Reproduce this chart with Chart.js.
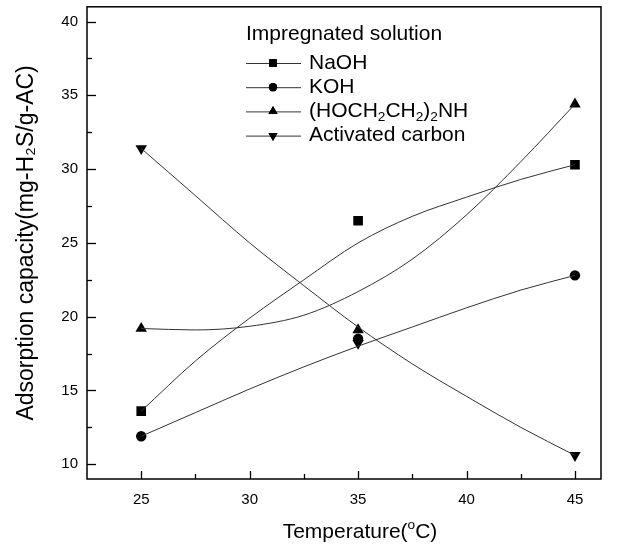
<!DOCTYPE html>
<html>
<head>
<meta charset="utf-8">
<script src="https://cdn.jsdelivr.net/npm/chart.js@4"></script>
<style>
  html, body { margin: 0; padding: 0; background: #fff; }
  #wrap { width: 637px; height: 547px; }
</style>
</head>
<body>
<div id="wrap"><canvas id="adsChart" width="637" height="547"></canvas></div>
<script>
// measured points (temperature in C)
const temps = [25, 35, 45];
const naoh = [13.6, 26.5, 30.3];
const koh = [11.9, 18.5, 22.8];
const dea = [19.2, 19.1, 34.4];
const carbon = [31.4, 18.2, 10.6];

// smoothed curves
const curveTemps = [25, 27.5, 30, 32.5, 35, 37.5, 40, 42.5, 45];
const naohCurve = [13.6, 17.0, 19.9, 22.5, 25.0, 26.8, 28.1, 29.3, 30.3];
const kohCurve = [11.9, 13.5, 15.1, 16.6, 18.0, 19.3, 20.6, 21.8, 22.8];
const deaCurve = [19.2, 19.1, 19.35, 20.1, 21.7, 23.9, 26.9, 30.5, 34.4];
const carbonCurve = [31.4, 28.2, 25.0, 22.1, 19.3, 16.8, 14.6, 12.5, 10.6];

const xTicks = [25, 30, 35, 40, 45];
const xMinor = [27.5, 32.5, 37.5, 42.5];
const yTicks = [10, 15, 20, 25, 30, 35, 40];
const yMinor = [12.5, 17.5, 22.5, 27.5, 32.5, 37.5];

const legendTitle = 'Impregnated solution';
const legendNames = ['NaOH', 'KOH', '(HOCH_2CH_2)_2NH', 'Activated carbon'];
const xTitle = 'Temperature(^oC)';

const FONT = "'Liberation Sans', Arial, sans-serif";
const lineColor = '#333';

const pts = (xs, ys) => xs.map((x, i) => ({ x: x, y: ys[i] }));

function curve(ys) {
  return {
    type: 'line',
    data: pts(curveTemps, ys),
    borderColor: lineColor,
    borderWidth: 1,
    pointRadius: 0,
    cubicInterpolationMode: 'monotone',
    showLine: true,
    fill: false
  };
}

function marks(ys, style, radius, rotation) {
  return {
    type: 'scatter',
    data: pts(temps, ys),
    showLine: false,
    pointStyle: style,
    pointRadius: radius,
    pointRotation: rotation || 0,
    pointBackgroundColor: '#000',
    pointBorderColor: '#000',
    pointBorderWidth: 0
  };
}

const markerDefs = [
  { style: 'rect', r: 6.8, rot: 0 },
  { style: 'circle', r: 5.2, rot: 0 },
  { style: 'triangle', r: 6.6, rot: 0 },
  { style: 'triangle', r: 6.6, rot: 180 }
];

// inward ticks + frame, like the origin plot
const frameTicks = {
  id: 'frameTicks',
  afterDraw(chart) {
    const { ctx, chartArea: a, scales: { x, y } } = chart;
    ctx.save();
    ctx.strokeStyle = '#000';
    ctx.lineWidth = 1.5;
    ctx.strokeRect(a.left, a.top, a.right - a.left, a.bottom - a.top);
    ctx.lineWidth = 1.3;
    const seg = (x1, y1, x2, y2) => { ctx.beginPath(); ctx.moveTo(x1, y1); ctx.lineTo(x2, y2); ctx.stroke(); };
    xTicks.forEach(v => { const p = Math.round(x.getPixelForValue(v)) + 0.5; seg(p, a.bottom, p, a.bottom - 8); });
    xMinor.forEach(v => { const p = Math.round(x.getPixelForValue(v)) + 0.5; seg(p, a.bottom, p, a.bottom - 5); });
    yTicks.forEach(v => { const p = Math.round(y.getPixelForValue(v)) + 0.5; seg(a.left, p, a.left + 9, p); });
    yMinor.forEach(v => { const p = Math.round(y.getPixelForValue(v)) + 0.5; seg(a.left, p, a.left + 5, p); });
    ctx.restore();
  }
};

// text with _2 subscripts and ^o superscripts, returns width
function drawSubText(ctx, text, x, y, size, measureOnly) {
  const start = x;
  const parts = text.split(/([_^]\w)/);
  parts.forEach(part => {
    if (!part) return;
    if (part[0] === '_' || part[0] === '^') {
      const shift = part[0] === '_' ? size * 0.3 : -size * 0.32;
      ctx.font = (size * 0.65) + 'px ' + FONT;
      if (!measureOnly) ctx.fillText(part.slice(1), x, y + shift);
      x += ctx.measureText(part.slice(1)).width;
    } else {
      ctx.font = size + 'px ' + FONT;
      if (!measureOnly) ctx.fillText(part, x, y);
      x += ctx.measureText(part).width;
    }
  });
  return x - start;
}

const boxLegend = {
  id: 'boxLegend',
  afterDraw(chart) {
    const ctx = chart.ctx;
    ctx.save();
    ctx.fillStyle = '#000';
    ctx.textBaseline = 'middle';
    ctx.textAlign = 'left';
    ctx.font = '21px ' + FONT;
    ctx.fillText(legendTitle, 246, 34);
    legendNames.forEach((name, i) => {
      const yy = 63 + i * 24.2;
      ctx.strokeStyle = lineColor;
      ctx.lineWidth = 1;
      ctx.beginPath();
      ctx.moveTo(246, yy + 0.5);
      ctx.lineTo(301, yy + 0.5);
      ctx.stroke();
      const m = markerDefs[i];
      Chart.helpers.drawPoint(ctx, { pointStyle: m.style, radius: m.r * 0.8, rotation: m.rot, borderWidth: 0 }, 273, yy);
      ctx.fillStyle = '#000';
      ctx.fill();
      ctx.textBaseline = 'middle';
      drawSubText(ctx, name, 309, yy, 21);
    });

    // x axis title, sits a bit right of centre in the original
    const w = drawSubText(ctx, xTitle, 0, 0, 21, true);
    drawSubText(ctx, xTitle, 360 - w / 2, 532, 21);
    ctx.restore();
  }
};

const series = [naohCurve, kohCurve, deaCurve, carbonCurve];
const points = [naoh, koh, dea, carbon];
const datasets = [];
series.forEach(s => datasets.push(curve(s)));
points.forEach((p, i) => datasets.push(marks(p, markerDefs[i].style, markerDefs[i].r, markerDefs[i].rot)));

new Chart(document.getElementById('adsChart').getContext('2d'), {
  type: 'scatter',
  data: { datasets: datasets },
  options: {
    responsive: false,
    animation: false,
    layout: { padding: { top: 6, right: 36, left: 0, bottom: 0 } },
    plugins: { legend: { display: false }, tooltip: { enabled: false } },
    scales: {
      x: {
        type: 'linear',
        min: 22.5,
        max: 46.2,
        afterBuildTicks: s => { s.ticks = xTicks.map(v => ({ value: v })); },
        afterFit: s => { s.height = 68; s.paddingLeft = 0; s.paddingRight = 0; },
        grid: { display: false, drawTicks: false },
        border: { display: false },
        ticks: { color: '#000', padding: 12, font: { family: FONT, size: 15 } },
        title: { display: false }
      },
      y: {
        type: 'linear',
        min: 9,
        max: 41,
        afterBuildTicks: s => { s.ticks = yTicks.map(v => ({ value: v })); },
        afterFit: s => { s.width = 87; s.paddingTop = 0; s.paddingBottom = 0; },
        grid: { display: false, drawTicks: false },
        border: { display: false },
        ticks: { color: '#000', padding: 9, font: { family: FONT, size: 15 } },
        title: {
          display: true,
          text: 'Adsorption capacity(mg-H₂S/g-AC)',
          color: '#000',
          font: { family: FONT, size: 23 },
          padding: { top: 13, bottom: 0 }
        }
      }
    }
  },
  plugins: [frameTicks, boxLegend]
});
</script>
</body>
</html>
